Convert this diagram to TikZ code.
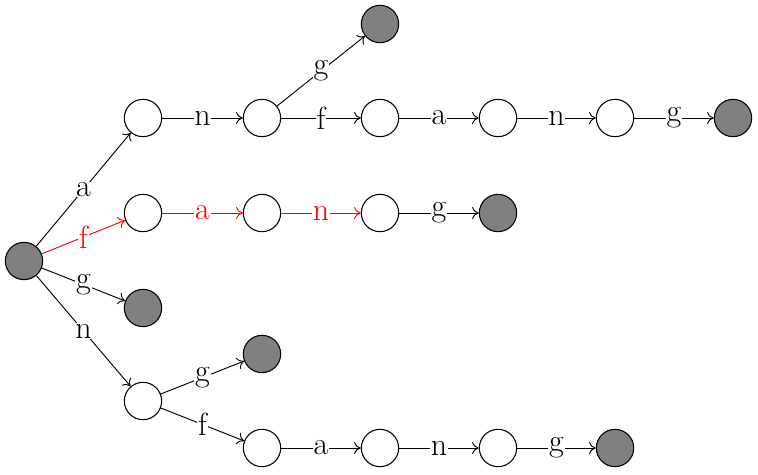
\documentclass[tikz,border=0pt]{standalone}
\usetikzlibrary{arrows.meta}
\begin{document}
\begin{tikzpicture}[x=0.75pt,y=-0.75pt,
  st/.style={circle,draw,line width=0.8pt,minimum size=28pt,inner sep=0pt},
  fin/.style={st,fill=gray},
  lab/.style={fill=white,inner sep=0.5pt,font=\fontsize{24}{26}\selectfont},
  tr/.style={-{To[length=5pt,width=9pt]},line width=0.7pt}]
\useasboundingbox (0,0) rectangle (758,475);
\node[fin] (r) at (24,261) {};
\node[st] (a) at (143,118) {};
\node[st] (an) at (262,118) {};
\node[fin] (ang) at (380,24) {};
\node[st] (anf) at (380,118) {};
\node[st] (anfa) at (498,118) {};
\node[st] (anfan) at (615,118) {};
\node[fin] (anfang) at (733,118) {};
\node[st] (f) at (143,213) {};
\node[st] (fa) at (262,213) {};
\node[st] (fan) at (380,213) {};
\node[fin] (fang) at (498,213) {};
\node[fin] (g) at (143,308) {};
\node[st] (n) at (143,401) {};
\node[fin] (ng) at (262,354) {};
\node[st] (nf) at (262,448) {};
\node[st] (nfa) at (380,448) {};
\node[st] (nfan) at (498,448) {};
\node[fin] (nfang) at (615,448) {};
\draw[tr] (r) -- node[lab]{a} (a);
\draw[tr,red] (r) -- node[lab,text=red]{f} (f);
\draw[tr] (r) -- node[lab]{g} (g);
\draw[tr] (r) -- node[lab]{n} (n);
\draw[tr] (a) -- node[lab]{n} (an);
\draw[tr] (an) -- node[lab]{g} (ang);
\draw[tr] (an) -- node[lab]{f} (anf);
\draw[tr] (anf) -- node[lab]{a} (anfa);
\draw[tr] (anfa) -- node[lab]{n} (anfan);
\draw[tr] (anfan) -- node[lab]{g} (anfang);
\draw[tr,red] (f) -- node[lab,text=red]{a} (fa);
\draw[tr,red] (fa) -- node[lab,text=red]{n} (fan);
\draw[tr] (fan) -- node[lab]{g} (fang);
\draw[tr] (n) -- node[lab]{g} (ng);
\draw[tr] (n) -- node[lab]{f} (nf);
\draw[tr] (nf) -- node[lab]{a} (nfa);
\draw[tr] (nfa) -- node[lab]{n} (nfan);
\draw[tr] (nfan) -- node[lab]{g} (nfang);
\end{tikzpicture}
\end{document}
